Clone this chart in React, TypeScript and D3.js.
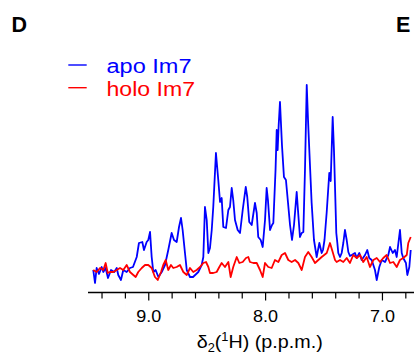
import React from "react";
import * as d3 from "d3";

// Chemical shift (p.p.m.) and intensity (arbitrary units)
const apoPpm = [
  9.475, 9.46, 9.446, 9.426, 9.403, 9.389, 9.369, 9.349, 9.323, 9.295, 9.274, 9.261, 9.238, 9.218, 9.189, 9.161,
  9.135, 9.103, 9.084, 9.055, 9.041, 9.018, 9.004, 8.989, 8.975, 8.961, 8.941, 8.918, 8.889, 8.861, 8.833, 8.804,
  8.784, 8.761, 8.741, 8.724, 8.71, 8.69, 8.675, 8.647, 8.621, 8.576, 8.547, 8.533, 8.519, 8.504, 8.49, 8.476,
  8.461, 8.448, 8.425, 8.405, 8.39, 8.376, 8.362, 8.339, 8.319, 8.305, 8.29, 8.277, 8.262, 8.239, 8.219, 8.196,
  8.17, 8.157, 8.14, 8.119, 8.091, 8.076, 8.063, 8.042, 8.025, 8.005, 7.991, 7.98, 7.962, 7.945, 7.934, 7.915,
  7.905, 7.897, 7.888, 7.877, 7.86, 7.843, 7.826, 7.808, 7.791, 7.774, 7.757, 7.734, 7.723, 7.706, 7.691, 7.677,
  7.663, 7.648, 7.637, 7.626, 7.606, 7.586, 7.563, 7.54, 7.52, 7.509, 7.496, 7.477, 7.455, 7.443, 7.426, 7.415,
  7.406, 7.395, 7.386, 7.378, 7.363, 7.349, 7.335, 7.321, 7.306, 7.292, 7.278, 7.263, 7.235, 7.22, 7.198, 7.178,
  7.149, 7.13, 7.113, 7.092, 7.064, 7.049, 7.027, 7.006, 6.978, 6.95, 6.935, 6.912, 6.893, 6.878, 6.85, 6.835,
  6.822, 6.799, 6.787, 6.77, 6.758,
];
const apoIntensity = [
  23, 10, 25, 19, 26, 21, 25, 15, 23, 21, 25, 18, 13, 23, 21, 25,
  26, 36, 50, 51, 43, 51, 53, 61, 36, 21, 23, 16, 21, 28, 43, 60,
  53, 51, 66, 75, 63, 40, 23, 16, 16, 21, 28, 36, 86, 73, 40, 45,
  63, 86, 140, 113, 91, 95, 66, 65, 83, 86, 105, 93, 73, 63, 60, 83,
  106, 96, 71, 68, 90, 80, 56, 53, 46, 73, 105, 93, 63, 68, 70, 123,
  163, 143, 168, 191, 148, 116, 113, 90, 68, 53, 68, 101, 83, 56, 60, 61,
  123, 208, 173, 143, 90, 53, 36, 50, 40, 43, 53, 81, 120, 112, 176, 143,
  106, 60, 50, 40, 36, 40, 50, 63, 53, 41, 37, 38, 40, 35, 40, 33,
  38, 43, 35, 33, 23, 13, 26, 33, 31, 38, 46, 40, 43, 36, 63, 40,
  35, 30, 18, 26, 43,
];

const holoPpm = [
  9.475, 9.446, 9.417, 9.389, 9.369, 9.351, 9.332, 9.303, 9.274, 9.246, 9.218, 9.189, 9.161, 9.132, 9.112, 9.09,
  9.06, 9.032, 9.004, 8.975, 8.947, 8.923, 8.895, 8.876, 8.855, 8.833, 8.81, 8.79, 8.761, 8.733, 8.704, 8.675,
  8.647, 8.619, 8.59, 8.561, 8.533, 8.51, 8.49, 8.476, 8.448, 8.419, 8.396, 8.376, 8.348, 8.319, 8.299, 8.277,
  8.247, 8.225, 8.196, 8.168, 8.148, 8.134, 8.105, 8.076, 8.048, 8.025, 8.005, 7.977, 7.948, 7.92, 7.891, 7.862,
  7.834, 7.806, 7.777, 7.748, 7.72, 7.691, 7.663, 7.635, 7.606, 7.577, 7.549, 7.52, 7.477, 7.449, 7.426, 7.406,
  7.392, 7.363, 7.335, 7.306, 7.278, 7.25, 7.22, 7.192, 7.164, 7.135, 7.107, 7.078, 7.049, 7.021, 6.993, 6.964,
  6.935, 6.907, 6.878, 6.85, 6.822, 6.792, 6.779, 6.758,
];
const holoIntensity = [
  23, 21, 25, 23, 30, 20, 21, 21, 23, 25, 23, 28, 21, 18, 16, 21,
  25, 28, 28, 25, 16, 13, 21, 28, 33, 23, 28, 25, 26, 28, 21, 18,
  25, 21, 23, 26, 30, 31, 26, 20, 20, 21, 26, 30, 26, 31, 16, 26,
  36, 30, 31, 35, 36, 31, 30, 30, 23, 16, 30, 26, 25, 33, 31, 38,
  40, 33, 31, 33, 30, 23, 36, 41, 36, 30, 33, 36, 40, 50, 41, 33,
  31, 33, 31, 35, 30, 38, 35, 38, 31, 36, 26, 33, 35, 31, 35, 38,
  30, 31, 26, 33, 35, 38, 50, 56,
];

const xTicks = [9.4, 9.2, 9.0, 8.8, 8.6, 8.4, 8.2, 8.0, 7.8, 7.6, 7.4, 7.2, 7.0, 6.8];
const xTickLabels = ["9.0", "8.0", "7.0"];
const legendLabels = ["apo Im7", "holo Im7"];
const seriesColors = ["#0000ff", "#ff0000"];
const panelLabels = ["D", "E"];

const W = 414;
const H = 358;
const FONT = "'Liberation Sans', Arial, Helvetica, sans-serif";

export default function App() {
  const x = d3.scaleLinear().domain([9.52, 6.73]).range([88, 414]);
  const y = d3.scaleLinear().domain([0, 210]).range([293, 83]);
  const axisY = 292.5;

  const line = d3
    .line<[number, number]>()
    .x((d) => x(d[0]))
    .y((d) => y(d[1]));

  const apo: [number, number][] = apoPpm.map((p, i) => [p, apoIntensity[i]]);
  const holo: [number, number][] = holoPpm.map((p, i) => [p, holoIntensity[i]]);

  return (
    <svg
      width={W}
      height={H}
      style={{ position: "absolute", left: 0, top: 0, background: "#fff" }}
      fontFamily={FONT}
    >
      {/* panel labels */}
      <text x={11.5} y={32.3} fontSize={21.5} fontWeight="bold" fill="#000">
        {panelLabels[0]}
      </text>
      <text x={396} y={32.3} fontSize={21.5} fontWeight="bold" fill="#000">
        {panelLabels[1]}
      </text>

      {/* legend */}
      {legendLabels.map((lab, i) => (
        <g key={lab}>
          <line
            x1={68.3}
            x2={86.7}
            y1={65 + i * 22.7}
            y2={65 + i * 22.7}
            stroke={seriesColors[i]}
            strokeWidth={1.4}
          />
          <text
            x={106.5}
            y={73 + i * 23}
            fontSize={20}
            fill={seriesColors[i]}
            textLength={i === 0 ? 85 : 88.5}
            lengthAdjust="spacingAndGlyphs"
          >
            {lab}
          </text>
        </g>
      ))}

      {/* spectra */}
      <path d={line(apo) || ""} fill="none" stroke={seriesColors[0]} strokeWidth={1.8} strokeLinejoin="round" />
      <path d={line(holo) || ""} fill="none" stroke={seriesColors[1]} strokeWidth={1.8} strokeLinejoin="round" />

      {/* x axis */}
      <line x1={88} x2={414} y1={axisY} y2={axisY} stroke="#000" strokeWidth={1.3} />
      {xTicks.map((t) => {
        const major = xTickLabels.includes(t.toFixed(1));
        return (
          <line
            key={t}
            x1={x(t)}
            x2={x(t)}
            y1={axisY}
            y2={axisY + (major ? 8 : 6)}
            stroke="#000"
            strokeWidth={1.2}
          />
        );
      })}
      {xTickLabels.map((lab) => (
        <text
          key={lab}
          x={x(+lab)}
          y={322.3}
          fontSize={16}
          textAnchor="middle"
          fill="#000"
          textLength={25}
          lengthAdjust="spacingAndGlyphs"
        >
          {lab}
        </text>
      ))}

      {/* axis title */}
      <text x={196.7} y={348.3} fontSize={18.5} fill="#000" textLength={126} lengthAdjust="spacingAndGlyphs">
        δ
        <tspan dy={4} fontSize={12}>2</tspan>
        <tspan dy={-4}>(</tspan>
        <tspan dy={-7} fontSize={12}>1</tspan>
        <tspan dy={7}>H) (p.p.m.)</tspan>
      </text>
    </svg>
  );
}
